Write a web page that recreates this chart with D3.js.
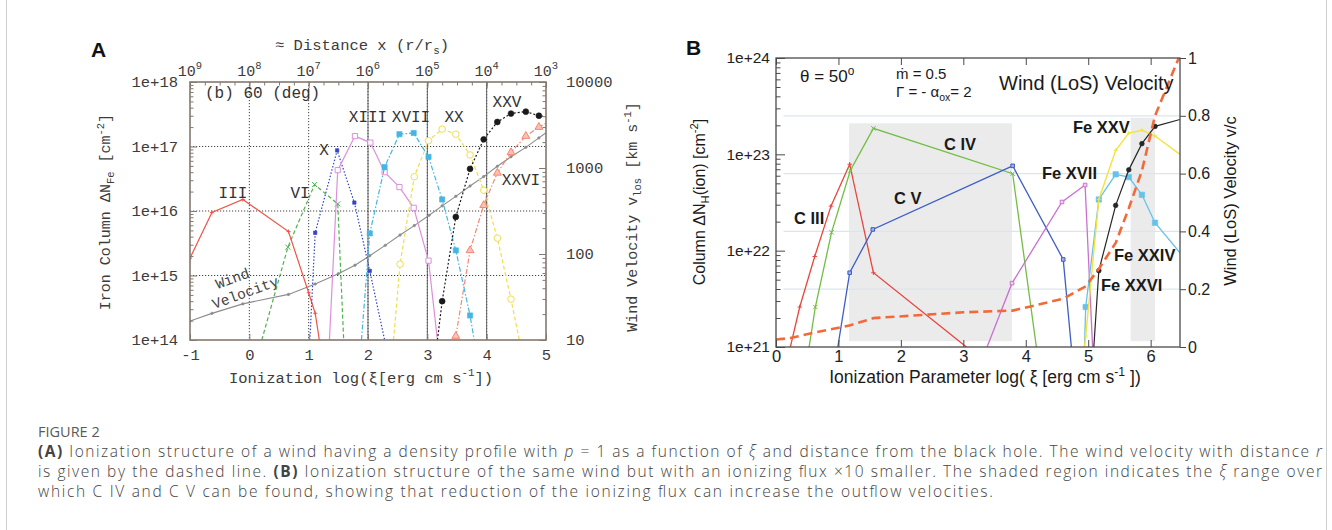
<!DOCTYPE html>
<html><head><meta charset="utf-8">
<script src="https://cdn.jsdelivr.net/npm/d3@7"></script>
<style>
body{margin:0;background:#fff;}
svg{display:block;}
</style></head><body>
<svg id="fig" width="1332" height="530"></svg>
<script>
// ================= DATA =================
// Panel A : ionization (log xi) vs iron column (cm^-2); wind velocity (km/s)
const aXTicks = [-1, 0, 1, 2, 3, 4, 5];
const aDistExp = ["9", "8", "7", "6", "5", "4", "3"];
const aYTicks = [1e14, 1e15, 1e16, 1e17, 1e18];
const aYTickLabels = ["1e+14", "1e+15", "1e+16", "1e+17", "1e+18"];
const aVTicks = [10, 100, 1000, 10000];
const aVTickLabels = ["10", "100", "1000", "10000"];

const feIII_xi = [-1, -0.63, -0.11, 0.66, 1.0, 1.11, 1.18];
const feIII_N  = [1.86e15, 9.5e15, 1.51e16, 4.8e15, 5.4e14, 2.6e14, 1e14];
const feVI_xi  = [0.21, 0.65, 1.10, 1.49, 1.59];
const feVI_N   = [1e14, 2.75e15, 2.57e16, 1.29e16, 1e14];
const feX_xi   = [1.02, 1.11, 1.48, 1.77, 2.03, 2.28];
const feX_N    = [1e14, 4.6e15, 8.7e16, 1.35e16, 1.18e15, 1e14];
const feXIII_xi = [1.35, 1.49, 1.78, 2.04, 2.28, 2.53, 2.77, 3.02, 3.17];
const feXIII_N  = [1e14, 4.3e16, 1.45e17, 1.15e17, 4.0e16, 2.35e16, 1.12e16, 1.7e15, 1e14];
const feXVII_xi = [1.89, 2.03, 2.28, 2.53, 2.77, 3.02, 3.25, 3.48, 3.72, 3.79];
const feXVII_N  = [1e14, 4.5e15, 4.8e16, 1.55e17, 1.62e17, 6.9e16, 1.51e16, 2.45e15, 2.4e14, 1e14];
const feXX_xi = [2.43, 2.54, 2.78, 3.02, 3.25, 3.48, 3.72, 3.95, 4.18, 4.41, 4.55];
const feXX_N  = [1e14, 1.5e15, 3.4e16, 1.23e17, 1.86e17, 1.55e17, 7.4e16, 2.1e16, 3.8e15, 4.3e14, 1e14];
const feXXV_xi = [3.17, 3.25, 3.48, 3.72, 3.95, 4.18, 4.41, 4.66, 4.88, 5.0];
const feXXV_N  = [1e14, 4.0e14, 8.1e15, 4.5e16, 1.29e17, 2.4e17, 3.24e17, 3.47e17, 3.0e17, 2.9e17];
const feXXVI_xi = [3.48, 3.72, 3.95, 4.18, 4.41, 4.66, 4.88, 5.0];
const feXXVI_N  = [1.15e14, 2.45e15, 1.23e16, 3.9e16, 8.1e16, 1.45e17, 2.0e17, 2.3e17];
const windA_xi = [-1, -0.63, -0.11, 0.66, 1.11, 1.50, 1.78, 2.03, 2.29, 2.54, 2.78, 3.03, 3.25, 3.48, 3.72, 3.95, 4.18, 4.41, 4.66, 4.88, 5.0];
const windA_v  = [16.6, 20.4, 26.3, 33.9, 44.7, 58.9, 74.1, 95.5, 126, 166, 214, 282, 363, 468, 617, 794, 1047, 1349, 1738, 2239, 2570];

// Panel B : ionization parameter vs column; wind LoS velocity (v/c)
const bXTicks = [0, 1, 2, 3, 4, 5, 6];
const bYTicks = [1e21, 1e22, 1e23, 1e24];
const bYTickLabels = ["1e+21", "1e+22", "1e+23", "1e+24"];
const bVTicks = [0, 0.2, 0.4, 0.6, 0.8, 1];
const bVTickLabels = ["0", "0.2", "0.4", "0.6", "0.8", "1"];

const cIII_xi = [0.23, 0.38, 0.62, 0.88, 1.18, 1.56, 3.05];
const cIII_N  = [1e21, 2.6e21, 8.7e21, 2.9e22, 7.9e22, 5.9e21, 1e21];
const cIV_xi  = [0.53, 0.63, 0.89, 1.19, 1.56, 3.79, 4.17];
const cIV_N   = [1e21, 2.6e21, 1.55e22, 6.8e22, 1.86e23, 6.3e22, 1e21];
const cV_xi   = [0.99, 1.18, 1.55, 3.79, 4.60, 4.73];
const cV_N    = [1e21, 5.9e21, 1.66e22, 7.6e22, 8.1e21, 1e21];
const bFeXVII_xi = [3.38, 3.78, 4.58, 4.95, 5.07];
const bFeXVII_N  = [1e21, 4.6e21, 3.2e22, 4.8e22, 1e21];
const bFeXXIV_xi = [4.94, 4.96, 5.17, 5.44, 5.65, 5.86, 6.07, 6.47];
const bFeXXIV_N  = [1e21, 2.6e21, 3.4e22, 6.2e22, 5.8e22, 3.8e22, 1.95e22, 9.5e21];
const bFeXXV_xi  = [4.94, 4.96, 5.17, 5.44, 5.65, 5.86, 6.07, 6.47];
const bFeXXV_N   = [1e21, 1.3e21, 3.4e22, 1.1e23, 1.66e23, 1.78e23, 1.55e23, 1.0e23];
const bFeXXVI_xi = [5.09, 5.17, 5.44, 5.65, 5.86, 6.07, 6.47];
const bFeXXVI_N  = [1e21, 6.2e21, 2.95e22, 6.9e22, 1.29e23, 1.95e23, 2.3e23];
const windB_xi = [0, 0.23, 0.66, 1.19, 1.56, 3.0, 3.79, 4.60, 4.96, 5.17, 5.44, 5.65, 5.86, 6.07, 6.45];
const windB_v  = [0.026, 0.031, 0.052, 0.075, 0.10, 0.12, 0.126, 0.167, 0.21, 0.27, 0.36, 0.48, 0.61, 0.80, 1.0];
const shadeXi  = [[1.17, 3.78], [5.68, 6.07]];
const shadeN   = [[1.15e21, 2.1e23], [1.15e21, 2.4e23]];

// ================= DRAWING =================
const svg = d3.select("#fig");
svg.append("rect").attr("width", 1332).attr("height", 530).attr("fill", "#fff");
svg.append("line").attr("x1", 6.5).attr("x2", 6.5).attr("y1", 0).attr("y2", 530).attr("stroke", "#cfcfcf");
svg.append("line").attr("x1", 1326.5).attr("x2", 1326.5).attr("y1", 0).attr("y2", 530).attr("stroke", "#cfcfcf");

const MONO = "'Liberation Mono','DejaVu Sans Mono',monospace";
const SANS = "'Liberation Sans',Arial,Helvetica,sans-serif";
const defs = svg.append("defs");

function rich(sel, parts, base) {
  let shift = 0;
  parts.forEach(p => {
    const target = p.sup ? -base * 0.42 : p.sub ? base * 0.28 : 0;
    const ts = sel.append("tspan").attr("dy", target - shift).text(p.t);
    if (p.sup || p.sub) ts.attr("font-size", base * 0.7);
    if (p.bold) ts.attr("font-weight", 700);
    if (p.italic) ts.attr("font-style", "italic");
    shift = target;
  });
  return sel;
}

function markerPath(type, s) {
  if (type === "plus") return `M${-s},0H${s}M0,${-s}V${s}`;
  if (type === "times") return `M${-s},${-s}L${s},${s}M${-s},${s}L${s},${-s}`;
  return null;
}

function drawSeries(g, xs, ys, xS, yS, st, xMax, yMin) {
  const pts = xs.map((x, i) => [x, ys[i]]);
  g.append("path").datum(pts)
    .attr("d", d3.line().x(d => xS(d[0])).y(d => yS(d[1])))
    .attr("fill", "none").attr("stroke", st.color)
    .attr("stroke-width", st.width || 1.2)
    .attr("stroke-dasharray", st.dash || null);
  if (!st.marker) return;
  const mk = pts.filter(d => d[1] > yMin * 1.0001 && d[0] < xMax - 1e-6);
  mk.forEach(d => {
    const px = xS(d[0]), py = yS(d[1]);
    const m = st.marker, s = st.msize || 3;
    if (m === "plus" || m === "times") {
      g.append("path").attr("d", markerPath(m, s)).attr("transform", `translate(${px},${py})`)
        .attr("stroke", st.mcolor || st.color).attr("stroke-width", 1).attr("fill", "none");
    } else {
      const type = m.includes("square") ? d3.symbolSquare : m.includes("tri") ? d3.symbolTriangle : d3.symbolCircle;
      const open = m.startsWith("o");
      g.append("path").attr("d", d3.symbol().type(type).size(s * s * 4))
        .attr("transform", `translate(${px},${py})`)
        .attr("fill", open ? (st.mfill || "#fff") : (st.mcolor || st.color))
        .attr("stroke", st.mcolor || st.color).attr("stroke-width", open ? 1 : 0.6);
    }
  });
}

// ---------------- Panel A ----------------
const A = { l: 190, r: 546, t: 82, b: 340 };
const xA = d3.scaleLinear().domain([-1, 5]).range([A.l, A.r]);
const yA = d3.scaleLog().domain([1e14, 1e18]).range([A.b, A.t]);
const vA = d3.scaleLog().domain([10, 10000]).range([A.b, A.t]);
const gA = svg.append("g");
const frameA = "#85786f";
const txtA = "#3c3c3c";

defs.append("clipPath").attr("id", "clipA").append("rect")
  .attr("x", A.l).attr("y", A.t).attr("width", A.r - A.l).attr("height", A.b - A.t);

// grid
const gridA = gA.append("g");
[0, 1, 2, 3, 4].forEach(v => {
  gridA.append("line").attr("x1", xA(v)).attr("x2", xA(v)).attr("y1", A.t).attr("y2", A.b)
    .attr("stroke", "#444").attr("stroke-width", 1).attr("stroke-dasharray", "1.2,1.8");
});
[2, 3, 4].forEach(v => {
  gridA.append("line").attr("x1", xA(v)).attr("x2", xA(v)).attr("y1", A.t).attr("y2", A.b)
    .attr("stroke", "#555").attr("stroke-width", 0.9);
});
[1e15, 1e16, 1e17].forEach(v => {
  gridA.append("line").attr("x1", A.l).attr("x2", A.r).attr("y1", yA(v)).attr("y2", yA(v))
    .attr("stroke", "#444").attr("stroke-width", 1).attr("stroke-dasharray", "1.2,1.8");
});

// series
const sA = gA.append("g").attr("clip-path", "url(#clipA)");
drawSeries(sA, windA_xi, windA_v, xA, vA, { color: "#8c8c8c", width: 1.1, marker: "circle", msize: 1.1 }, 5, 10);
drawSeries(sA, feIII_xi, feIII_N, xA, yA, { color: "#ee5548", marker: "plus", msize: 2 }, 5, 1e14);
drawSeries(sA, feVI_xi, feVI_N, xA, yA, { color: "#4db34e", dash: "4,2.5", marker: "times", msize: 2.5 }, 5, 1e14);
drawSeries(sA, feX_xi, feX_N, xA, yA, { color: "#3345c8", dash: "1.5,1.8", marker: "square", msize: 1.7 }, 5, 1e14);
drawSeries(sA, feXIII_xi, feXIII_N, xA, yA, { color: "#dc90dc", marker: "osquare", msize: 2.6 }, 5, 1e14);
drawSeries(sA, feXVII_xi, feXVII_N, xA, yA, { color: "#45b6e2", dash: "5,2,1.5,2", marker: "square", msize: 2.6 }, 5, 1e14);
drawSeries(sA, feXX_xi, feXX_N, xA, yA, { color: "#f1de4e", dash: "4,2.5", marker: "ocircle", msize: 2.9 }, 5, 1e14);
drawSeries(sA, feXXV_xi, feXXV_N, xA, yA, { color: "#1a1a1a", dash: "2,2", marker: "circle", msize: 2.6 }, 5, 1e14);
drawSeries(sA, feXXVI_xi, feXXVI_N, xA, yA, { color: "#f48874", dash: "5,2,1.5,2", marker: "otri", msize: 2.6, mfill: "#fbc0b2" }, 5, 1.1e14);

// frame
gA.append("rect").attr("x", A.l).attr("y", A.t).attr("width", A.r - A.l).attr("height", A.b - A.t)
  .attr("fill", "none").attr("stroke", frameA).attr("stroke-width", 1.6);

function styleAxis(g, color, font, size, fill) {
  g.select(".domain").remove();
  g.selectAll(".tick line").attr("stroke", color);
  g.selectAll(".tick text").attr("font-family", font).attr("font-size", size).attr("fill", fill);
}

// axes A
const minorLog = (lo, hi) => { const o = []; for (let e = lo; e < hi; e++) for (let k = 2; k <= 9; k++) o.push(k * Math.pow(10, e)); return o; };
styleAxis(gA.append("g").attr("transform", `translate(${A.l},0)`)
  .call(d3.axisLeft(yA).tickValues(aYTicks).tickSize(-7).tickPadding(12).tickFormat((d, i) => aYTickLabels[i])), frameA, MONO, 15.5, txtA);
styleAxis(gA.append("g").attr("transform", `translate(${A.l},0)`)
  .call(d3.axisLeft(yA).tickValues(minorLog(14, 18)).tickSize(-3.5).tickFormat("")), frameA, MONO, 15.5, txtA);
styleAxis(gA.append("g").attr("transform", `translate(${A.r},0)`)
  .call(d3.axisRight(vA).tickValues(aVTicks).tickSize(-7).tickPadding(20).tickFormat((d, i) => aVTickLabels[i])), frameA, MONO, 15.5, txtA);
styleAxis(gA.append("g").attr("transform", `translate(${A.r},0)`)
  .call(d3.axisRight(vA).tickValues(minorLog(1, 4)).tickSize(-3.5).tickFormat("")), frameA, MONO, 15.5, txtA);
styleAxis(gA.append("g").attr("transform", `translate(0,${A.b})`)
  .call(d3.axisBottom(xA).tickValues(aXTicks).tickSize(-6).tickPadding(9).tickFormat(d => String(d))), frameA, MONO, 15.5, txtA);
styleAxis(gA.append("g").attr("transform", `translate(0,${A.t})`)
  .call(d3.axisTop(xA).tickValues(aXTicks).tickSize(-6).tickFormat("")), frameA, MONO, 15.5, txtA);
styleAxis(gA.append("g").attr("transform", `translate(0,${A.t})`)
  .call(d3.axisTop(xA).tickValues(d3.range(-0.75, 5, 0.25)).tickSize(-3.5).tickFormat("")), frameA, MONO, 15.5, txtA);

// top distance labels
aXTicks.forEach((v, i) => {
  const t = gA.append("text").attr("x", xA(v)).attr("y", 75.5).attr("text-anchor", "middle")
    .attr("font-family", MONO).attr("font-size", 15).attr("fill", txtA);
  rich(t, [{ t: "10" }, { t: aDistExp[i], sup: true }], 15);
});

// titles A
const tA = (x, y, parts, size, rot) => {
  const t = gA.append("text").attr("text-anchor", "middle").attr("font-family", MONO)
    .attr("font-size", size).attr("fill", txtA)
    .attr("transform", `translate(${x},${y})` + (rot ? ` rotate(${rot})` : ""));
  rich(t, parts, size);
  return t;
};
tA(362, 50, [{ t: "≈ Distance x (r/r" }, { t: "s", sub: true }, { t: ")" }], 15.5);
tA(361, 382.5, [{ t: "Ionization log(ξ[erg cm s" }, { t: "-1", sup: true }, { t: "])" }], 15.5);
tA(110, 212, [{ t: "Iron Column ΔN" }, { t: "Fe", sub: true }, { t: " [cm" }, { t: "-2", sup: true }, { t: "]" }], 15, -90);
tA(637, 217, [{ t: "Wind Velocity v" }, { t: "los", sub: true }, { t: " [km s" }, { t: "-1", sup: true }, { t: "]" }], 15, -90);

// labels A
const labA = (x, y, s, anchor) => gA.append("text").attr("x", x).attr("y", y)
  .attr("text-anchor", anchor || "middle").attr("font-family", MONO).attr("font-size", 16).attr("fill", "#333").text(s);
labA(205, 98, "(b) 60 (deg)", "start");
labA(233, 197.5, "III");
labA(300, 197.5, "VI");
labA(324, 154.5, "X");
labA(368, 121.5, "XIII");
labA(411, 121.5, "XVII");
labA(454, 121.5, "XX");
labA(507, 107, "XXV");
labA(521, 185, "XXVI");
gA.append("text").attr("transform", "translate(234,283) rotate(-20)").attr("text-anchor", "middle")
  .attr("font-family", MONO).attr("font-size", 14.5).attr("fill", "#444").text("Wind");
gA.append("text").attr("transform", "translate(247,297) rotate(-20)").attr("text-anchor", "middle")
  .attr("font-family", MONO).attr("font-size", 14.5).attr("fill", "#444").text("Velocity");

gA.append("text").attr("x", 91).attr("y", 57).attr("font-family", SANS).attr("font-weight", "bold")
  .attr("font-size", 21).attr("fill", "#111").text("A");

// ---------------- Panel B ----------------
const B = { l: 776, r: 1180, t: 58, b: 347 };
const xB = d3.scaleLinear().domain([0, 6.47]).range([B.l, B.r]);
const yB = d3.scaleLog().domain([1e21, 1e24]).range([B.b, B.t]);
const vB = d3.scaleLinear().domain([0, 1]).range([B.b, B.t]);
const gB = svg.append("g");
const frameB = "#4a4a4a";
defs.append("clipPath").attr("id", "clipB").append("rect")
  .attr("x", B.l).attr("y", B.t).attr("width", B.r - B.l).attr("height", B.b - B.t);

// shaded ranges
gB.append("g").selectAll("rect").data(shadeXi).join("rect")
  .attr("x", d => xB(d[0])).attr("width", d => xB(d[1]) - xB(d[0]))
  .attr("y", (d, i) => yB(shadeN[i][1])).attr("height", (d, i) => yB(shadeN[i][0]) - yB(shadeN[i][1]))
  .attr("fill", "#ebebeb");
// faint velocity grid
[0.2, 0.4, 0.6, 0.8].forEach(v => {
  gB.append("line").attr("x1", xB(0.12)).attr("x2", B.r).attr("y1", vB(v)).attr("y2", vB(v))
    .attr("stroke", "#dbe5ee").attr("stroke-width", 1.2);
});

const sB = gB.append("g").attr("clip-path", "url(#clipB)");
drawSeries(sB, cIII_xi, cIII_N, xB, yB, { color: "#e8463d", width: 1.3, marker: "plus", msize: 2.2 }, 6.47, 1e21);
drawSeries(sB, cIV_xi, cIV_N, xB, yB, { color: "#72be44", width: 1.3, marker: "times", msize: 2.2 }, 6.47, 1e21);
drawSeries(sB, cV_xi, cV_N, xB, yB, { color: "#3d5ec6", width: 1.3, marker: "osquare", msize: 1.8, mfill: "#9fb0e6" }, 6.47, 1e21);
drawSeries(sB, bFeXVII_xi, bFeXVII_N, xB, yB, { color: "#cb70cf", width: 1.3, marker: "osquare", msize: 1.8, mfill: "#eed0f0" }, 6.47, 1e21);
drawSeries(sB, bFeXXIV_xi, bFeXXIV_N, xB, yB, { color: "#67c2ea", width: 1.3, marker: "square", msize: 2.7 }, 6.47, 1e21);
drawSeries(sB, bFeXXV_xi, bFeXXV_N, xB, yB, { color: "#f4e33a", width: 1.4, marker: "plus", msize: 2 }, 6.47, 1e21);
drawSeries(sB, bFeXXVI_xi, bFeXXVI_N, xB, yB, { color: "#262626", width: 1.2, marker: "circle", msize: 2.1 }, 6.47, 1e21);
drawSeries(sB, windB_xi, windB_v, xB, vB, { color: "#f26a3a", width: 2.6, dash: "9,5" }, 6.47, 0);

gB.append("rect").attr("x", B.l).attr("y", B.t).attr("width", B.r - B.l).attr("height", B.b - B.t)
  .attr("fill", "none").attr("stroke", frameB).attr("stroke-width", 1.3);

styleAxis(gB.append("g").attr("transform", `translate(${B.l},0)`)
  .call(d3.axisLeft(yB).tickValues(bYTicks).tickSize(-9).tickPadding(6).tickFormat((d, i) => bYTickLabels[i])), frameB, SANS, 15.5, "#222");
styleAxis(gB.append("g").attr("transform", `translate(${B.l},0)`)
  .call(d3.axisLeft(yB).tickValues(minorLog(21, 24)).tickSize(-4.5).tickFormat("")), frameB, SANS, 15.5, "#222");
styleAxis(gB.append("g").attr("transform", `translate(${B.r},0)`)
  .call(d3.axisRight(vB).tickValues(bVTicks).tickSize(6).tickPadding(2).tickFormat((d, i) => bVTickLabels[i])), frameB, SANS, 16, "#222");
styleAxis(gB.append("g").attr("transform", `translate(0,${B.b})`)
  .call(d3.axisBottom(xB).tickValues(bXTicks).tickSize(-7).tickPadding(3).tickFormat(d => String(d))), frameB, SANS, 16.5, "#222");
styleAxis(gB.append("g").attr("transform", `translate(0,${B.t})`)
  .call(d3.axisTop(xB).tickValues(bXTicks).tickSize(-7).tickFormat("")), frameB, SANS, 16, "#222");

const tB = (x, y, parts, size, rot, anchor, weight) => {
  const t = gB.append("text").attr("text-anchor", anchor || "middle").attr("font-family", SANS)
    .attr("font-size", size).attr("fill", "#1a1a1a").attr("font-weight", weight || "normal")
    .attr("transform", `translate(${x},${y})` + (rot ? ` rotate(${rot})` : ""));
  rich(t, parts, size);
  return t;
};
tB(985, 383, [{ t: "Ionization Parameter log( ξ [erg cm s" }, { t: "-1", sup: true }, { t: " ])" }], 17.5);
tB(705, 202, [{ t: "Column ΔN" }, { t: "H", sub: true }, { t: "(ion) [cm" }, { t: "-2", sup: true }, { t: "]" }], 16, -90);
tB(1236, 201, [{ t: "Wind (LoS) Velocity v/c" }], 16.5, -90);
tB(800, 82, [{ t: "θ = 50" }, { t: "o", sup: true }], 17, 0, "start");
tB(896, 78.5, [{ t: "ṁ = 0.5" }], 15, 0, "start");
tB(896, 97, [{ t: "Γ = - α" }, { t: "ox", sub: true }, { t: "= 2" }], 15, 0, "start");
tB(999, 89.5, [{ t: "Wind (LoS) Velocity" }], 20, 0, "start");
const labB = [["C IV", 944, 150.3], ["C V", 894, 204], ["C III", 794, 224], ["Fe XVII", 1042, 179],
  ["Fe XXV", 1073, 132.7], ["Fe XXIV", 1114, 261], ["Fe XXVI", 1101, 291]];
labB.forEach(d => tB(d[1], d[2], [{ t: d[0] }], 16.5, 0, "start", "bold"));

gB.append("text").attr("x", 686).attr("y", 55).attr("font-family", SANS).attr("font-weight", "bold")
  .attr("font-size", 21).attr("fill", "#111").text("B");

// ---------------- Caption ----------------
const CAP = "'Open Sans','Noto Sans',sans-serif";
svg.append("text").attr("x", 38).attr("y", 437).attr("font-family", CAP).attr("font-size", 14.5)
  .attr("font-weight", 500).attr("fill", "#5a5a5a").text("FIGURE 2");
const capLines = [
  [[{ t: "(A)", bold: true }, { t: " Ionization structure of a wind having a density profile with " }, { t: "p", italic: true },
    { t: " = 1 as a function of " }, { t: "ξ", italic: true }, { t: " and distance from the black hole. The wind velocity with distance " }, { t: "r", italic: true }], 1284],
  [[{ t: "is given by the dashed line. " }, { t: "(B)", bold: true }, { t: " Ionization structure of the same wind but with an ionizing flux ×10 smaller. The shaded region indicates the " },
    { t: "ξ", italic: true }, { t: " range over" }], 1284],
  [[{ t: "which C IV and C V can be found, showing that reduction of the ionizing flux can increase the outflow velocities." }], 955]
];
capLines.forEach((ln, i) => {
  const t = svg.append("text").attr("x", 38).attr("y", 457 + i * 20).attr("font-family", CAP)
    .attr("font-size", 15.5).attr("font-weight", 300).attr("fill", "#444")
    .attr("textLength", ln[1]).attr("lengthAdjust", "spacing");
  rich(t, ln[0], 15.5);
});
</script>
</body></html>
